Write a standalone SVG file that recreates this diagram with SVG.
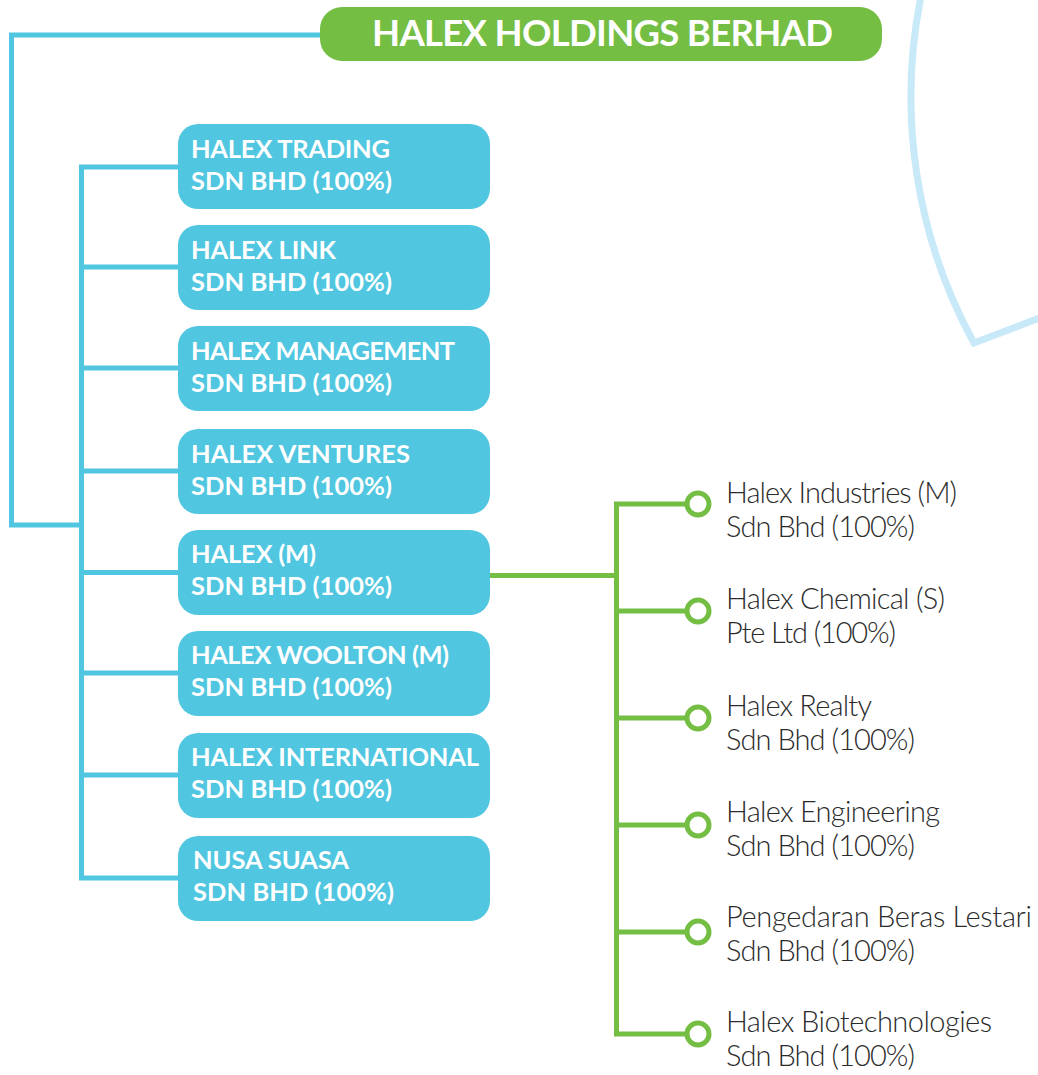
<svg xmlns="http://www.w3.org/2000/svg" width="1038" height="1075" viewBox="0 0 1038 1075">
<style>
.bg{fill:#ffffff}
.box{fill:#50C6E0}
.title{fill:#74BE44}
.bt{font-family:"Lato","Open Sans","Liberation Sans",sans-serif;font-weight:700;font-size:25.5px;fill:#ffffff}
.tt{font-family:"Lato","Open Sans","Liberation Sans",sans-serif;font-weight:700;font-size:36.5px;fill:#ffffff}
.rt{font-family:"Lato","Open Sans","Liberation Sans",sans-serif;font-weight:300;font-size:29px;fill:#2b2b2b}
.bl{fill:none;stroke:#50C6E0;stroke-width:5}
.gl{fill:none;stroke:#74BE44;stroke-width:5}
.dot{fill:#ffffff;stroke:#74BE44;stroke-width:5}
.arc{fill:none;stroke:#C7E9F8;stroke-width:7;stroke-linejoin:miter}
</style>
<rect class="bg" x="0" y="0" width="1038" height="1075"/>
<path class="arc" d="M 921 -4 A 512 512 0 0 0 974 343 Q 1005 331 1042 317"/>

<g id="connectors">
  <path class="bl" d="M 322 35 H 11.5 V 525 H 81.5"/>
  <path class="bl" d="M 180 167 H 81.5 V 878 H 180"/>
  <path class="bl" d="M 81.5 267 H 180 M 81.5 368 H 180 M 81.5 471 H 180 M 81.5 572.5 H 180 M 81.5 673 H 180 M 81.5 775 H 180"/>
  <path class="gl" d="M 488 575.5 H 616.5"/>
  <path class="gl" d="M 688 504 H 616.5 V 1034 H 688"/>
  <path class="gl" d="M 616.5 611 H 688 M 616.5 718 H 688 M 616.5 825 H 688 M 616.5 932 H 688"/>
</g>

<g id="halex-holdings-berhad">
  <rect class="title" x="320" y="7" width="562" height="54" rx="22"/>
  <text class="tt" x="372" y="46" textLength="461">HALEX HOLDINGS BERHAD</text>
</g>

<g id="halex-trading">
  <rect class="box" x="178" y="124" width="312" height="85" rx="20"/>
  <text class="bt" x="191" y="157.5" textLength="199">HALEX TRADING</text>
  <text class="bt" x="191" y="189.5" textLength="201">SDN BHD (100%)</text>
</g>
<g id="halex-link">
  <rect class="box" x="178" y="225" width="312" height="85" rx="20"/>
  <text class="bt" x="191" y="258.5" textLength="145">HALEX LINK</text>
  <text class="bt" x="191" y="290.5" textLength="201">SDN BHD (100%)</text>
</g>
<g id="halex-management">
  <rect class="box" x="178" y="326" width="312" height="85" rx="20"/>
  <text class="bt" x="191" y="359.5" textLength="264">HALEX MANAGEMENT</text>
  <text class="bt" x="191" y="391.5" textLength="201">SDN BHD (100%)</text>
</g>
<g id="halex-ventures">
  <rect class="box" x="178" y="429" width="312" height="85" rx="20"/>
  <text class="bt" x="191" y="462.5" textLength="219">HALEX VENTURES</text>
  <text class="bt" x="191" y="494.5" textLength="201">SDN BHD (100%)</text>
</g>
<g id="halex-m">
  <rect class="box" x="178" y="530" width="312" height="85" rx="20"/>
  <text class="bt" x="191" y="563" textLength="125">HALEX (M)</text>
  <text class="bt" x="191" y="595" textLength="201">SDN BHD (100%)</text>
</g>
<g id="halex-woolton">
  <rect class="box" x="178" y="631" width="312" height="85" rx="20"/>
  <text class="bt" x="191" y="664" textLength="258">HALEX WOOLTON (M)</text>
  <text class="bt" x="191" y="696" textLength="201">SDN BHD (100%)</text>
</g>
<g id="halex-international">
  <rect class="box" x="178" y="733" width="312" height="85" rx="20"/>
  <text class="bt" x="191" y="766" textLength="288">HALEX INTERNATIONAL</text>
  <text class="bt" x="191" y="798" textLength="201">SDN BHD (100%)</text>
</g>
<g id="nusa-suasa">
  <rect class="box" x="178" y="836" width="312" height="85" rx="20"/>
  <text class="bt" x="193" y="869" textLength="156">NUSA SUASA</text>
  <text class="bt" x="193" y="901" textLength="201">SDN BHD (100%)</text>
</g>

<g id="halex-industries">
  <circle class="dot" cx="698" cy="504" r="11"/>
  <text class="rt" x="726" y="503" textLength="231">Halex Industries (M)</text>
  <text class="rt" x="726" y="537" textLength="189">Sdn Bhd (100%)</text>
</g>
<g id="halex-chemical">
  <circle class="dot" cx="698" cy="611" r="11"/>
  <text class="rt" x="726" y="609" textLength="219">Halex Chemical (S)</text>
  <text class="rt" x="726" y="643" textLength="170">Pte Ltd (100%)</text>
</g>
<g id="halex-realty">
  <circle class="dot" cx="698" cy="718" r="11"/>
  <text class="rt" x="726" y="716" textLength="146">Halex Realty</text>
  <text class="rt" x="726" y="750" textLength="189">Sdn Bhd (100%)</text>
</g>
<g id="halex-engineering">
  <circle class="dot" cx="698" cy="825" r="11"/>
  <text class="rt" x="726" y="822" textLength="214">Halex Engineering</text>
  <text class="rt" x="726" y="856" textLength="189">Sdn Bhd (100%)</text>
</g>
<g id="pengedaran-beras-lestari">
  <circle class="dot" cx="698" cy="932" r="11"/>
  <text class="rt" x="726" y="927" textLength="306">Pengedaran Beras Lestari</text>
  <text class="rt" x="726" y="961" textLength="189">Sdn Bhd (100%)</text>
</g>
<g id="halex-biotechnologies">
  <circle class="dot" cx="698" cy="1034" r="11"/>
  <text class="rt" x="726" y="1032" textLength="266">Halex Biotechnologies</text>
  <text class="rt" x="726" y="1066" textLength="189">Sdn Bhd (100%)</text>
</g>
</svg>
